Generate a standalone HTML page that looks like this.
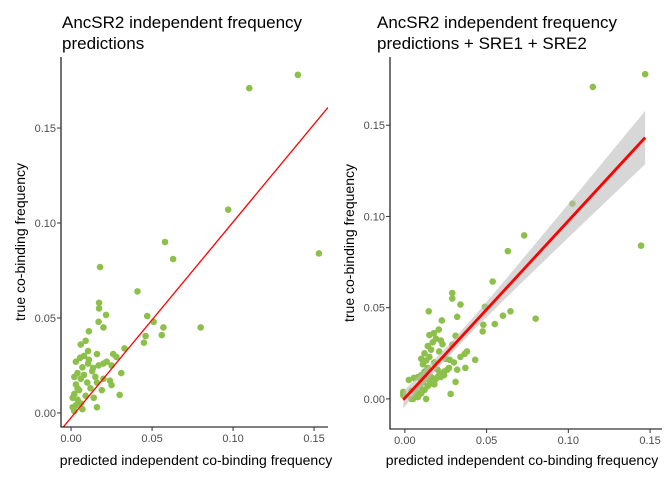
<!DOCTYPE html>
<html><head><meta charset="utf-8"><style>
html,body{margin:0;padding:0;background:#fff}
svg{display:block;font-family:"Liberation Sans",sans-serif}
</style></head><body>
<svg id="chart" width="672" height="480" viewBox="0 0 672 480" xmlns="http://www.w3.org/2000/svg"></svg>
<script>
// Left panel data: predicted independent frequency vs true co-binding frequency
const leftX = [0.110,0.140,0.097,0.058,0.063,0.153,0.080,0.0179,0.041,0.0173,0.0173,0.0216,0.017,0.020,0.011,0.047,0.051,0.057,0.046,0.056,0.045,0.009,0.006,0.0105,0.033,0.026,0.028,0.0056,0.0105,0.020,0.025,0.0136,0.031,0.024,0.025,0.016,0.030,0.016,
0.002,0.003,0.004,0.002,0.005,0.003,0.006,0.004,0.007,0.003,0.008,0.010,0.012,0.009,0.006,0.001,0.013,0.015,0.011,0.008,0.017,0.019,0.014,0.020,0.004,0.002,0.016,0.022,0.001,0.007];
const leftY = [0.171,0.178,0.107,0.090,0.081,0.084,0.045,0.0768,0.064,0.058,0.055,0.0516,0.048,0.045,0.043,0.051,0.048,0.045,0.0405,0.041,0.037,0.038,0.036,0.0326,0.034,0.031,0.0295,0.029,0.026,0.026,0.025,0.0237,0.021,0.017,0.0147,0.016,0.0095,0.003,
0.001,0.004,0.007,0.010,0.012,0.015,0.018,0.021,0.024,0.027,0.020,0.016,0.013,0.009,0.005,0.003,0.022,0.019,0.028,0.030,0.025,0.012,0.008,0.018,0.013,0.019,0.031,0.027,0.008,0.002];
// Reference line for left panel
const leftLine = {slope:1.03, intercept:-0.0025};
// Right panel data: predicted with SRE1 + SRE2
const rightX = [0.115,0.147,0.1025,0.073,0.063,0.1445,0.080,0.0537,0.029,0.029,0.034,0.0146,0.032,0.049,0.0226,0.0177,0.0207,0.031,0.048,0.055,0.060,0.0646,0.0476,0.022,0.029,0.038,0.0366,0.043,0.0274,0.032,0.037,0.024,0.031,0.0024,0.0055,-0.001,-0.001,0.004,0.028,0.010,
0.008,0.010,0.012,0.009,0.011,0.013,0.010,0.012,0.014,0.011,0.013,0.015,0.012,0.016,0.014,0.017,0.019,0.015,0.018,0.020,0.016,0.018,0.007,0.021,0.023,0.010,0.008,0.013,0.025,0.022,
0.004,0.006,0.009,0.011,0.014,0.016,0.019,0.021,0.024,0.027,0.005,0.008,0.012,0.015,0.018,0.020,0.023,0.026,0.030,0.034];
const rightY = [0.171,0.178,0.107,0.0896,0.081,0.084,0.044,0.0643,0.058,0.055,0.0517,0.048,0.045,0.0505,0.043,0.036,0.038,0.0346,0.0406,0.041,0.0456,0.048,0.037,0.032,0.0297,0.026,0.0247,0.0214,0.0214,0.016,0.017,0.013,0.0093,0.0104,0.0115,0.0038,0.002,0.0044,0.0027,0.010,
0.001,0.003,0.005,0.007,0.009,0.011,0.013,0.015,0.017,0.019,0.021,0.023,0.025,0.027,0.029,0.031,0.033,0.035,0.020,0.016,0.012,0.008,0.004,0.026,0.030,0.022,0.012,0.000,0.022,0.012,
0.000,0.001,0.003,0.005,0.007,0.009,0.011,0.013,0.015,0.017,0.000,0.002,0.005,0.008,0.010,0.012,0.014,0.016,0.020,0.023];
const xTicks = [0.00,0.05,0.10,0.15];
const xTickLabels = ["0.00","0.05","0.10","0.15"];
const leftYTicks = [0.00,0.05,0.10,0.15];
const rightYTicks = [0.00,0.05,0.10,0.15];
const yTickLabels = ["0.00","0.05","0.10","0.15"];

const svg = document.getElementById('chart');
const NS = 'http://www.w3.org/2000/svg';
function mk(tag, attrs, parent){const e=document.createElementNS(NS,tag);for(const k in attrs)e.setAttribute(k,attrs[k]);(parent||svg).appendChild(e);return e;}

function panel(p){
  const g = mk('g',{});
  
  
  const sx = v => p.x0 + (v - p.xmin)/(p.xmax - p.xmin)*(p.x1 - p.x0);
  const sy = v => p.y1 - (v - p.ymin)/(p.ymax - p.ymin)*(p.y1 - p.y0);
  const clip = mk('clipPath',{id:p.name+'-clip'},g);
  mk('rect',{x:p.x0,y:p.y0,width:p.x1-p.x0,height:p.y1-p.y0},clip);
  const plot = mk('g',{'clip-path':'url(#'+p.name+'-clip)'},g);
  for(let i=0;i<p.xs.length;i++){
    const c = mk('circle',{cx:sx(p.xs[i]),cy:sy(p.ys[i]),r:3.3,fill:'#8cc04a'},plot);
    
    
  }
  if(p.fit){
    const n=p.xs.length; let mx=0,my=0; for(let i=0;i<n;i++){mx+=p.xs[i];my+=p.ys[i];} mx/=n;my/=n;
    let sxx=0,sxy=0; for(let i=0;i<n;i++){sxx+=(p.xs[i]-mx)**2;sxy+=(p.xs[i]-mx)*(p.ys[i]-my);}
    const b=sxy/sxx, a=my-b*mx; let sse=0; for(let i=0;i<n;i++){sse+=(p.ys[i]-a-b*p.xs[i])**2;}
    const s=Math.sqrt(sse/(n-2)); const t=1.98;
    const xa=Math.min(...p.xs), xb=Math.max(...p.xs); const up=[],lo=[];
    for(let k=0;k<=40;k++){const x=xa+(xb-xa)*k/40; const yh=a+b*x; const se=s*Math.sqrt(1/n+(x-mx)**2/sxx);
      up.push(sx(x)+','+sy(yh+t*se)); lo.unshift(sx(x)+','+sy(yh-t*se));}
    const band=mk('polygon',{points:up.concat(lo).join(' '),fill:'#bdbdbd','fill-opacity':0.6},plot);
    
    
    const ln=mk('line',{x1:sx(xa),y1:sy(a+b*xa),x2:sx(xb),y2:sy(a+b*xb),stroke:'#ff0000','stroke-width':2.8},plot);
    
    
  } else {
    const ln=mk('line',{x1:sx(p.xmin),y1:sy(p.line.intercept+p.line.slope*p.xmin),x2:sx(p.xmax),y2:sy(p.line.intercept+p.line.slope*p.xmax),stroke:'#ff0000','stroke-width':1.3},plot);
    
    
  }
  const ax = mk('path',{d:`M${p.x0},${p.y0} V${p.y1} H${p.x1}`,stroke:'#000','stroke-width':1.1,fill:'none'},g);
  
  
  xTicks.forEach((v,i)=>{
    mk('line',{x1:sx(v),x2:sx(v),y1:p.y1,y2:p.y1+4,stroke:'#333','stroke-width':1},g);
    const t=mk('text',{x:sx(v),y:p.y1+15,'text-anchor':'middle','font-size':11,fill:'#4d4d4d'},g);
    t.textContent=xTickLabels[i];
    
    
  });
  p.yticks.forEach((v,i)=>{
    mk('line',{x1:p.x0-4,x2:p.x0,y1:sy(v),y2:sy(v),stroke:'#333','stroke-width':1},g);
    const t=mk('text',{x:p.x0-5,y:sy(v)+4,'text-anchor':'end','font-size':11,fill:'#4d4d4d'},g);
    t.textContent=yTickLabels[i];
    
    
  });
  const xt=mk('text',{x:p.xtc,y:465,'text-anchor':'middle','font-size':14,fill:'#000'},g);
  xt.textContent='predicted independent co-binding frequency';
  
  
  const yt=mk('text',{x:0,y:0,'text-anchor':'middle','font-size':14,fill:'#000',transform:`translate(${p.ytx},${(p.y0+p.y1)/2}) rotate(-90)`},g);
  yt.textContent='true co-binding frequency';
  
  
  p.title.forEach((s,i)=>{
    const t=mk('text',{x:p.tx,y:28+i*21,'font-size':17,fill:'#000'},g);
    t.textContent=s;
    
    
  });
}

panel({name:'left-panel',x0:61,x1:328,y0:57,y1:427,xmin:-0.0062,xmax:0.1586,ymin:-0.0074,ymax:0.1874,
  xs:leftX,ys:leftY,yticks:leftYTicks,line:leftLine,fit:false,ytx:25,tx:62,xtc:196,
  title:['AncSR2 independent frequency','predictions']});
panel({name:'right-panel',x0:390,x1:662,y0:57,y1:429,xmin:-0.0091,xmax:0.1573,ymin:-0.0165,ymax:0.1874,
  xs:rightX,ys:rightY,yticks:rightYTicks,fit:true,ytx:354,tx:377,xtc:522,
  title:['AncSR2 independent frequency','predictions + SRE1 + SRE2']});
</script>
</body></html>
